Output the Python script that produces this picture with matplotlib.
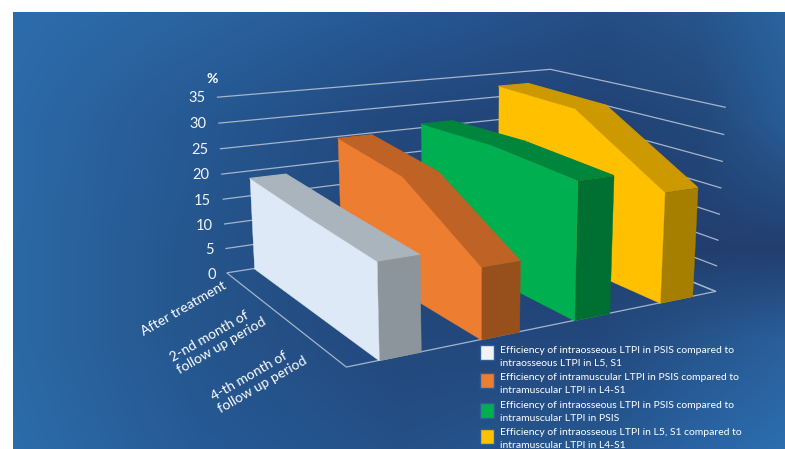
import numpy as np
import matplotlib
matplotlib.use("Agg")
import matplotlib.pyplot as plt
from matplotlib.patches import Rectangle
from mpl_toolkits.mplot3d.art3d import Poly3DCollection, Line3DCollection

# ---- chart data ----
categories = ["After treatment", "2-nd month of\nfollow up period", "4-th month of\nfollow up period"]
white_values = [18.5, 17.4, 16.6]
orange_values = [24.6, 22.4, 12.7]
green_values = [25.8, 26.3, 25.2]
yellow_values = [32.3, 31.7, 20.8]
series_values = [white_values, orange_values, green_values, yellow_values]
value_ticks = [0, 5, 10, 15, 20, 25, 30, 35]
legend_labels = [
    "Efficiency of intraosseous LTPI in PSIS compared to\nintraosseous LTPI in L5, S1",
    "Efficiency of intramuscular LTPI in PSIS compared to\nintramuscular LTPI in L4-S1",
    "Efficiency of intraosseous LTPI in PSIS compared to\nintramuscular LTPI in PSIS",
    "Efficiency of intraosseous LTPI in L5, S1 compared to\nintramuscular LTPI in L4-S1",
]
front_colors = ["#DEE9F7", "#ED7D31", "#00B050", "#FFC000"]
top_colors = ["#AAB4BC", "#BE6225", "#00853C", "#CC9A00"]
side_colors = ["#8D959C", "#97501C", "#006F32", "#A67F00"]
swatch_colors = ["#F2F2F2", "#ED7D31", "#00B050", "#FFC000"]

W, H = 785, 449
plt.rcParams["font.family"] = ["Lato", "DejaVu Sans"]
fig = plt.figure(figsize=(W / 100, H / 100), dpi=100, facecolor="white")

# ---- background ----
bg = fig.add_axes([0, 0, 1, 1], zorder=0)
gx = [13, 200, 400, 600, 700, 785]
gy = [12, 120, 250, 340, 449]
grid = np.array([
    [(45,108,172),(42,100,160),(38,88,148),(36,78,133),(38,85,140),(42,100,158)],
    [(44,105,168),(38,88,146),(34,72,125),(34,66,118),(35,72,122),(40,92,150)],
    [(43,105,165),(37,85,140),(34,70,120),(34,64,112),(34,62,110),(34,62,110)],
    [(43,105,165),(37,85,140),(35,72,125),(35,72,125),(38,85,140),(42,95,155)],
    [(44,108,170),(38,90,150),(36,80,135),(38,88,145),(42,100,165),(44,110,175)],
], float) / 255
xs = np.arange(13, 786)
ys = np.arange(12, 450)
tmp = np.stack([[np.interp(xs, gx, grid[r, :, c]) for r in range(len(gy))] for c in range(3)], axis=-1)
img = np.stack([[np.interp(ys, gy, tmp[:, i, c]) for i in range(len(xs))] for c in range(3)], axis=-1)
img = np.transpose(img, (1, 0, 2))
bg.imshow(img, extent=(13, 785, 449, 12), aspect="auto", interpolation="bilinear")
bg.set_xlim(0, W)
bg.set_ylim(H, 0)
bg.axis("off")

# ---- camera calibrated on the chart's floor and wall corners ----
# slot s (0..4), category position t (0..1), value z  ->  pixel
near, far = 0.30, 0.70
anchors = [
    (0, 0, 0, 227, 273), (0, 1, 0, 346, 367), (4, 1, 0, 716, 292),
    (0, 0, 35, 217, 97), (4, 0, 35, 550, 69), (4, 1, 35, 726, 108),
    (near, 0, 0, 254, 269), (near, 1, 0, 379, 361), (far, 1, 0, 420, 352),
    (1 + near, 1, 0, 481, 339), (1 + far, 1, 0, 520, 331), (2 + near, 1, 0, 574, 320),
    (2 + far, 1, 0, 609, 313), (3 + near, 1, 0, 660, 303), (3 + far, 1, 0, 692, 296),
]
rows = []
for s, t, v, px, py in anchors:
    py = H - py
    rows.append([s, t, v, 1, 0, 0, 0, 0, -px * s, -px * t, -px * v, -px])
    rows.append([0, 0, 0, 0, s, t, v, 1, -py * s, -py * t, -py * v, -py])
P = np.linalg.svd(np.array(rows, float))[2][-1].reshape(3, 4)
M = np.vstack([P[0], P[1], [0.001, 0.002, 0.003, 0.7], P[2]])


def project(s, t, v):
    h = P @ np.array([s, t, v, 1.0])
    return h[0] / h[2], H - h[1] / h[2]


ax = fig.add_axes([0, 0, 1, 1], projection="3d", zorder=1, computed_zorder=False)
ax.set_facecolor("none")
ax.patch.set_alpha(0)
ax.set_axis_off()
ax.viewLim.intervalx = (0, W)
ax.viewLim.intervaly = (0, H)
ax.get_proj = lambda: M
ax.apply_aspect = lambda position=None: None
ax.set_position([0, 0, 1, 1])

# ---- walls and floor ----
segments = []
for v in value_ticks:
    segments.append([(0, 0, v), (4, 0, v), (4, 1, v)])
    px, py = project(-0.12, 0, v)
    bg.text(px, py, str(v), color="#F2F5F9", fontsize=10.5, ha="right", va="center")
segments.append([(0, 0, 0), (0, 1, 0), (4, 1, 0), (4, 0, 0)])
ax.add_collection3d(Line3DCollection(segments, colors="#A4B5CB", linewidths=0.9, zorder=1), autolim=False)

# ---- areas ----
t_pos = [0, 0.5, 1]
z = 2
for i in range(3, -1, -1):
    vals = series_values[i]
    s0, s1 = i + near, i + far
    front = [(s0, 0, 0)] + [(s0, t, v) for t, v in zip(t_pos, vals)] + [(s0, 1, 0)]
    tops = [[(s0, t_pos[k], vals[k]), (s1, t_pos[k], vals[k]),
             (s1, t_pos[k + 1], vals[k + 1]), (s0, t_pos[k + 1], vals[k + 1])] for k in range(2)]
    side = [(s0, 1, 0), (s0, 1, vals[-1]), (s1, 1, vals[-1]), (s1, 1, 0)]
    for verts, col, lw in [(tops, top_colors[i], 0.8), ([side], side_colors[i], 0.3), ([front], front_colors[i], 0.3)]:
        ax.add_collection3d(Poly3DCollection(verts, facecolors=col, edgecolors=col, linewidths=lw, zorder=z), autolim=False)
        z += 1

# ---- text ----
txt_kw = dict(color="white", ha="center", va="center", rotation=30, rotation_mode="anchor",
              fontsize=10, linespacing=1.22, multialignment="left")
for label, (x, y) in zip(categories, [(184, 309), (218, 340), (259, 379)]):
    bg.text(x, y, label, **txt_kw)
bg.text(212, 79, "%", color="white", fontsize=10, fontweight="bold", ha="center", va="center")

for col, y in zip(swatch_colors, [345, 373, 403, 429]):
    bg.add_patch(Rectangle((480, y), 14, 15, facecolor=col, edgecolor="#2F5D94", lw=1))
for label, y in zip(legend_labels, [357, 384, 412, 439]):
    bg.text(500, y, label, color="white", fontsize=7.45, ha="left", va="center", linespacing=1.6, multialignment="left")

fig.savefig("out.png", dpi=100)
